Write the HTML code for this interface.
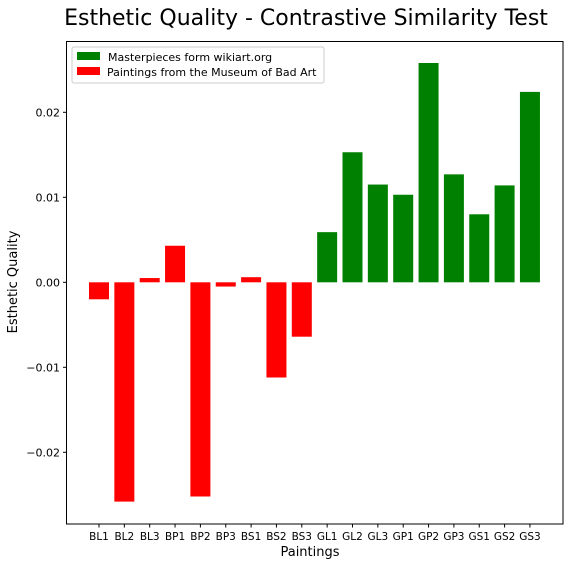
<!DOCTYPE html>
<html><head><meta charset="utf-8"><style>
body{margin:0;background:#fff;font-family:"Liberation Sans","DejaVu Sans",sans-serif}
</style></head><body>
<svg width="573" height="563" xmlns="http://www.w3.org/2000/svg" font-family="DejaVu Sans, Liberation Sans, sans-serif">
<text x="306" y="25" font-size="22" text-anchor="middle">Esthetic Quality - Contrastive Similarity Test</text>
<g id="bars"></g>
<rect x="66.5" y="41.5" width="496.5" height="482.5" fill="none" stroke="#000" stroke-width="1"/>
<g id="yticks" font-size="11"></g>
<g id="xticks" font-size="10.5"></g>
<text x="310" y="556" font-size="13" text-anchor="middle">Paintings</text>
<text transform="translate(17,282) rotate(-90)" font-size="13" text-anchor="middle">Esthetic Quality</text>
<g>
<rect x="72" y="47" width="252" height="36" fill="#fff" stroke="#ccc" rx="2"/>
<rect x="77" y="52" width="23" height="8" fill="#008000"/>
<text x="108" y="61" font-size="11">Masterpieces form wikiart.org</text>
<rect x="77" y="67" width="23" height="8" fill="#ff0000"/>
<text x="107" y="76" font-size="11">Paintings from the Museum of Bad Art</text>
</g>
</svg>
<script>
const categories=["BL1","BL2","BL3","BP1","BP2","BP3","BS1","BS2","BS3","GL1","GL2","GL3","GP1","GP2","GP3","GS1","GS2","GS3"];
const values=[-0.002,-0.0258,0.0005,0.0043,-0.0252,-0.0005,0.0006,-0.0112,-0.0064,0.0059,0.0153,0.0115,0.0103,0.0258,0.0127,0.008,0.0114,0.0224];
const colors=["red","red","red","red","red","red","red","red","red","green","green","green","green","green","green","green","green","green"];
const yTickValues=[-0.02,-0.01,0,0.01,0.02];
const yTickLabels=["\u22120.02","\u22120.01","0.00","0.01","0.02"];
const NS="http://www.w3.org/2000/svg";
const y=v=>282.3-v*8500;
const x=i=>99+i*25.35;
const bw=20;
const bars=document.getElementById('bars');
categories.forEach((c,i)=>{
 const v=values[i];
 const r=document.createElementNS(NS,'rect');
 r.setAttribute('x',x(i)-bw/2);
 r.setAttribute('y',Math.min(y(v),y(0)));
 r.setAttribute('width',bw);
 r.setAttribute('height',Math.abs(y(v)-y(0)));
 r.setAttribute('fill',colors[i]==="red"?"#ff0000":"#008000");
 
 
 bars.appendChild(r);
});
const yt=document.getElementById('yticks');
yTickValues.forEach((v,i)=>{
 const l=document.createElementNS(NS,'line');
 l.setAttribute('x1',63);l.setAttribute('x2',66.5);l.setAttribute('y1',y(v));l.setAttribute('y2',y(v));l.setAttribute('stroke','#000');
 yt.appendChild(l);
 const t=document.createElementNS(NS,'text');
 t.setAttribute('x',60);t.setAttribute('y',y(v)+4);t.setAttribute('text-anchor','end');
 t.textContent=yTickLabels[i];
 
 
 yt.appendChild(t);
});
const xt=document.getElementById('xticks');
categories.forEach((c,i)=>{
 const l=document.createElementNS(NS,'line');
 l.setAttribute('x1',x(i));l.setAttribute('x2',x(i));l.setAttribute('y1',524);l.setAttribute('y2',527.5);l.setAttribute('stroke','#000');
 xt.appendChild(l);
 const t=document.createElementNS(NS,'text');
 t.setAttribute('x',x(i));t.setAttribute('y',540);t.setAttribute('text-anchor','middle');
 t.textContent=c;
 
 
 xt.appendChild(t);
});
</script>
</body></html>
